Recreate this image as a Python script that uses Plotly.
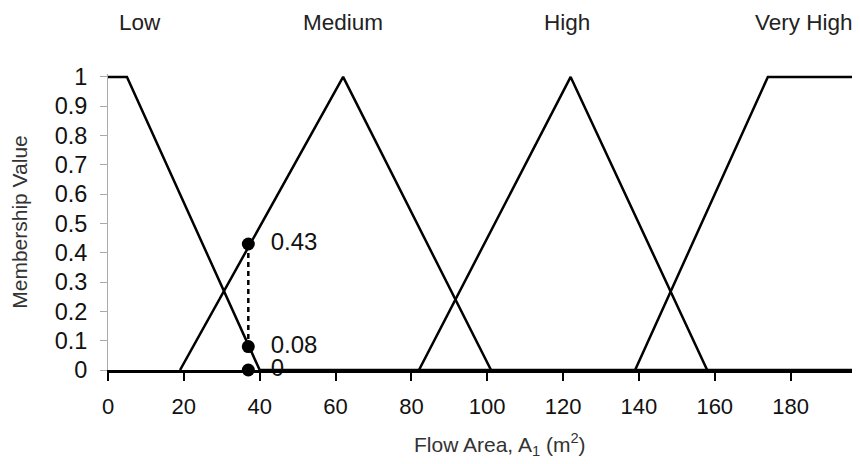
import plotly.graph_objects as go

# Membership functions (x breakpoints, membership values)
low_x = [0, 5, 40, 198.3]
low_y = [1, 1, 0, 0]
medium_x = [19, 62, 101]
medium_y = [0, 1, 0]
high_x = [82, 122, 158]
high_y = [0, 1, 0]
very_high_x = [139, 174, 198.3]
very_high_y = [0, 1, 1]

# Evaluation point
eval_x = [37, 37, 37]
eval_y = [0.43, 0.08, 0]
eval_labels = ["0.43", "0.08", "0"]

set_names = ["Low", "Medium", "High", "Very High"]
set_label_x = [8.5, 62, 121, 183.5]

x_ticks = [0, 20, 40, 60, 80, 100, 120, 140, 160, 180]
y_ticks = [0, 0.1, 0.2, 0.3, 0.4, 0.5, 0.6, 0.7, 0.8, 0.9, 1]
y_tick_text = ["0", "0.1", "0.2", "0.3", "0.4", "0.5", "0.6", "0.7", "0.8", "0.9", "1"]

FONT = "Liberation Sans, Arial, sans-serif"
line_style = dict(color="black", width=2.5)

# page body has an 8px default margin: figure occupies 8..860 x 8..464
W, H = 852, 456
ML, MT, MB = 100, 66, 94
plot_w = W - ML
plot_h = H - MT - MB

fig = go.Figure()
for xs, ys in [(low_x, low_y), (medium_x, medium_y), (high_x, high_y), (very_high_x, very_high_y)]:
    fig.add_trace(go.Scatter(x=xs, y=ys, mode="lines", line=line_style,
                             showlegend=False, hoverinfo="skip"))

# dotted connector
fig.add_trace(go.Scatter(x=eval_x[:2], y=eval_y[:2], mode="lines",
                         line=dict(color="black", width=2.5, dash="5px,4px"),
                         showlegend=False, hoverinfo="skip"))
# points with labels
fig.add_trace(go.Scatter(x=eval_x, y=eval_y, mode="markers+text",
                         marker=dict(color="black", size=13),
                         text=["  " + t for t in eval_labels], textposition="middle right",
                         textfont=dict(family=FONT, size=24, color="#111"),
                         cliponaxis=False, showlegend=False, hoverinfo="skip"))

for name, xv in zip(set_names, set_label_x):
    fig.add_annotation(x=xv, xref="x", y=1 + (MT - 14) / plot_h, yref="paper",
                       yanchor="middle", text=name, showarrow=False,
                       font=dict(family=FONT, size=22.5, color="#222"))

# x-axis title (placed as annotation, centred like the reference)
fig.add_annotation(x=(500 - 8 - ML) / plot_w, xref="paper",
                   y=-(444 - 8 - MT - plot_h) / plot_h, yref="paper",
                   yanchor="middle", xanchor="center", showarrow=False,
                   text="Flow Area, A<sub>1</sub> (m<sup>2</sup>)",
                   font=dict(family=FONT, size=21, color="#333"))

fig.update_layout(
    width=W, height=H,
    margin=dict(l=ML, r=0, t=MT, b=MB),
    paper_bgcolor="white", plot_bgcolor="white",
    font=dict(family=FONT, size=22, color="#111"),
)

fig.update_xaxes(range=[0, 198.3], tickvals=x_ticks, ticks="outside", ticklen=8,
                 tickwidth=2, tickcolor="black", showline=True, linecolor="black",
                 linewidth=2.5, showgrid=False, zeroline=False, ticklabelstandoff=7,
                 tickfont=dict(family=FONT, size=22, color="#111"))
fig.update_yaxes(range=[0, 1.01], tickvals=y_ticks, ticktext=y_tick_text, ticks="outside",
                 ticklen=7, tickwidth=1, tickcolor="#aaa", showline=True, linecolor="#aaa",
                 linewidth=1, showgrid=False, zeroline=False, ticklabelstandoff=8,
                 tickfont=dict(family=FONT, size=23.5, color="#111"),
                 title=dict(text="Membership Value",
                            font=dict(family=FONT, size=21, color="#333"), standoff=24))

fig.write_html("out.html")
